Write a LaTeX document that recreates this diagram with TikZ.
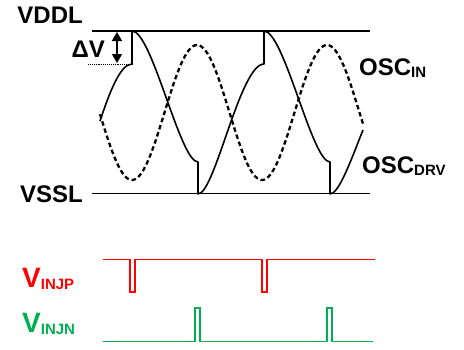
\documentclass[tikz,border=0pt]{standalone}
\usepackage{fontspec}
\setmainfont{Liberation Sans}
\usepackage{tikz}
\usetikzlibrary{positioning, arrows.meta, calc}
\definecolor{injP}{HTML}{FF0000}
\definecolor{injN}{HTML}{00B050}
\newcommand{\lowsub}[1]{\raisebox{-2.5pt}{\fontsize{15}{15}\selectfont #1}}

\begin{document}
\begin{tikzpicture}[x=1pt, y=-1pt, rail/.style={line width=1.7pt}, oscdrvw/.style={line width=1.6pt, line join=round}, osciw/.style={line width=2.3pt, dash pattern=on 4.5pt off 3pt}, lbl/.style={font=\fontsize{24}{24}\selectfont\bfseries, inner sep=0pt}, pulse/.style={line width=1.4pt}]
\useasboundingbox (0,0) rectangle (464,349);
% rails
\coordinate (ddlA) at (92,31); \coordinate (ddlB) at (370,31);
\coordinate (sslA) at (92,193.5); \coordinate (sslB) at (370,193.5);
\draw[rail] (ddlA) -- (ddlB);
\draw[rail] (sslA) -- (sslB);
\node[lbl, anchor=base east] (vddl) at (83,23) {VDDL};
\node[lbl, anchor=base east] (vssl) at (83,202) {VSSL};
% oscillator input (dashed)
\draw[osciw] plot[domain=100:363, samples=140] (\x, {112.5 - 67.5*cos(((\x-197)/130)*360)});
% driven oscillator
\draw[oscdrvw] (100,121) .. controls (109,94) and (120,64) .. (132,64) -- (132,31) .. controls (152,31) and (180,162) .. (198,162) -- (198,194) .. controls (215,194) and (240,64) .. (264,64) -- (264,31) .. controls (284,31) and (312,162) .. (330,162) -- (330,194) .. controls (339,194) and (351,160) .. (363,130);
% delta V
\coordinate (dvTop) at (117,32); \coordinate (dvBot) at (117,63);
\draw[line width=1.6pt, {Triangle[width=10pt,length=9pt]}-{Triangle[width=10pt,length=9pt]}] (dvTop) -- (dvBot);
\coordinate (dotA) at (88,64); \coordinate (dotB) at (132,64);
\draw[densely dotted, line width=0.9pt] (dotA) -- (dotB);
\node[lbl, anchor=base east] (dv) at (105,57) {ΔV};
\node[lbl, anchor=base west] (oscin) at (359,75) {OSC\lowsub{IN}};
\node[lbl, anchor=base west] (oscdrv) at (362,173) {OSC\lowsub{DRV}};
% injection pulses
\draw[pulse, injP] (103,259.5) -- (130,259.5) -- (130,292) -- (135,292) -- (135,259.5) -- (262,259.5) -- (262,292) -- (267,292) -- (267,259.5) -- (375,259.5);
\draw[pulse, injN] (103,341.5) -- (195,341.5) -- (195,308) -- (200,308) -- (200,341.5) -- (327,341.5) -- (327,308) -- (332,308) -- (332,341.5) -- (373,341.5);
\node[lbl, injP, anchor=base west, font=\fontsize{28}{28}\selectfont\bfseries] (vinjp) at (22,287) {V\lowsub{INJP}};
\node[lbl, injN, anchor=base west, font=\fontsize{28}{28}\selectfont\bfseries] (vinjn) at (22,332) {V\lowsub{INJN}};
\end{tikzpicture}
\end{document}
